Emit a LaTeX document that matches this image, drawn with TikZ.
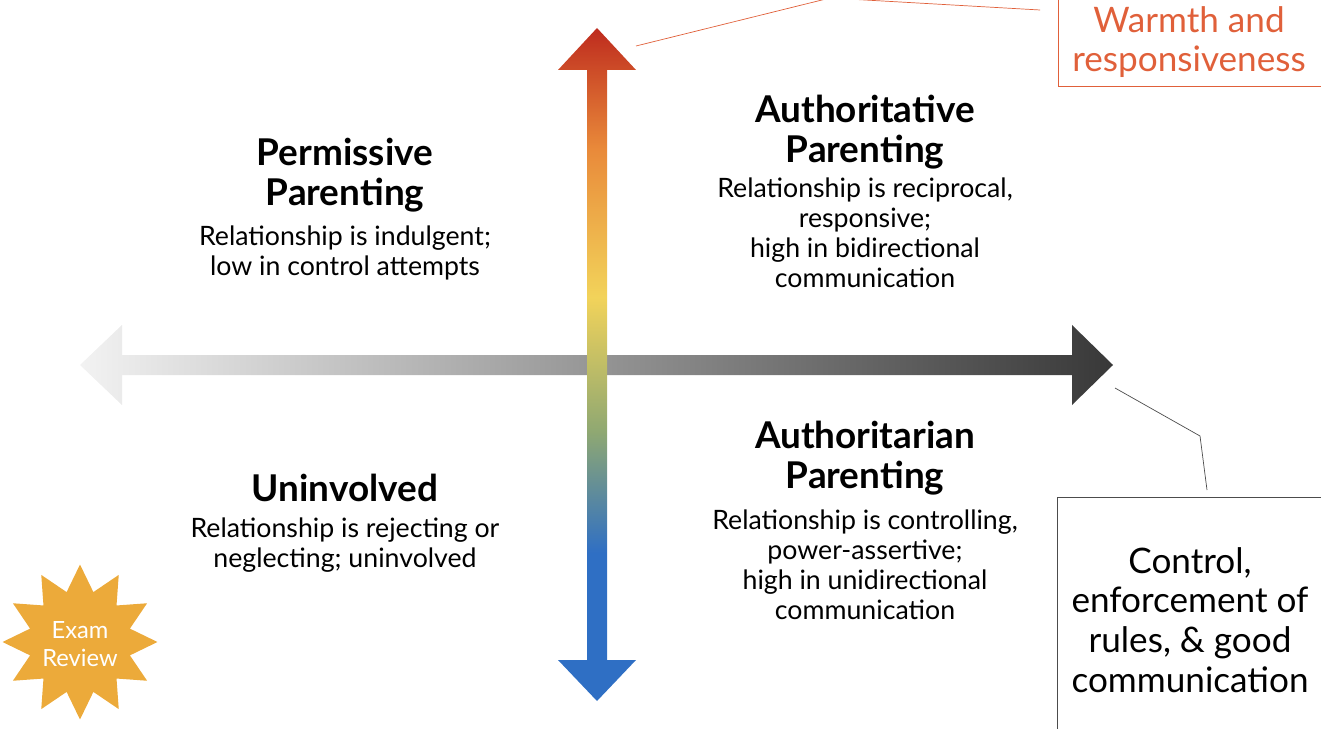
\documentclass[tikz,border=0pt]{standalone}
\usepackage{fontspec}
\setmainfont{Lato}
\usetikzlibrary{shapes.geometric}
\definecolor{c1}{HTML}{2F6FC4}
\definecolor{c2}{HTML}{8FA872}
\definecolor{c3}{HTML}{F2D35A}
\definecolor{c4}{HTML}{E98A3A}
\definecolor{c5}{HTML}{BE2B1E}
\definecolor{warmtxt}{HTML}{E0603A}
\definecolor{starc}{HTML}{ECAA3A}
\pgfdeclareverticalshading{warm}{100bp}{color(0bp)=(c1);color(25bp)=(c1);color(36bp)=(c1);color(45bp)=(c2);color(55bp)=(c3);color(66bp)=(c4);color(75bp)=(c5);color(100bp)=(c5)}
\tikzset{
 ttl/.style={font=\fontsize{21}{23}\selectfont\bfseries,align=center},
 body/.style={font=\fontsize{15.2}{17}\selectfont,align=center},
 call/.style={font=\fontsize{20}{22.6}\selectfont,align=center},
}
\begin{document}
\begin{tikzpicture}[x=0.02cm,y=-0.02cm]
\useasboundingbox (0,0) rectangle (1321,729);
% horizontal arrow
\shade[left color=black!5,right color=black!78]
 (80,365) -- (122,325) -- (122,355) -- (1072,355) -- (1072,325) -- (1113,365)
 -- (1072,405) -- (1072,375) -- (122,375) -- (122,405) -- cycle;
% vertical arrow
\path[shading=warm]
 (597,28) -- (636,70) -- (607,70) -- (607,660) -- (636,660) -- (597,701)
 -- (558,660) -- (587,660) -- (587,70) -- (558,70) -- cycle;
\coordinate (vt) at (636,46);
\coordinate (ht) at (1115,388);
% warmth callout
\draw[warmtxt,thin] (1058,-5) rectangle (1330,86);
\node[call,text=warmtxt] (warm) at (1189,42) {Warmth and\\responsiveness};
\draw[warmtxt,thin] (vt) -- (830,-2) -- (1040,10);
% control callout
\draw[black!70,thin] (1057,497) rectangle (1330,740);
\node[call] (ctrl) at (1190,620) {Control,\\enforcement of\\rules, \& good\\communication};
\draw[black!70,thin] (ht) -- (1200,436) -- (1207,490);
% quadrants
\node[ttl] (perm) at (345,175) {Permissive\\Parenting};
\node[body] (permb) at (345,253) {Relationship is indulgent;\\low in control attempts};
\node[ttl] (auth) at (865,132) {Authoritative\\Parenting};
\node[body] (authb) at (865,233) {Relationship is reciprocal,\\responsive;\\high in bidirectional\\communication};
\node[ttl] (unin) at (345,488) {Uninvolved};
\node[body] (uninb) at (345,545) {Relationship is rejecting or\\neglecting; uninvolved};
\node[ttl] (autr) at (865,458) {Authoritarian\\Parenting};
\node[body] (autrb) at (865,565) {Relationship is controlling,\\power-assertive;\\high in unidirectional\\communication};
% star
\node[star,star points=12,star point ratio=1.5,fill=starc,minimum size=3.1cm,inner sep=0] (star) at (80,642) {};
\node[text=white,font=\fontsize{13.5}{16}\selectfont,align=center] (startxt) at (80,644) {Exam\\Review};
\end{tikzpicture}
\end{document}
